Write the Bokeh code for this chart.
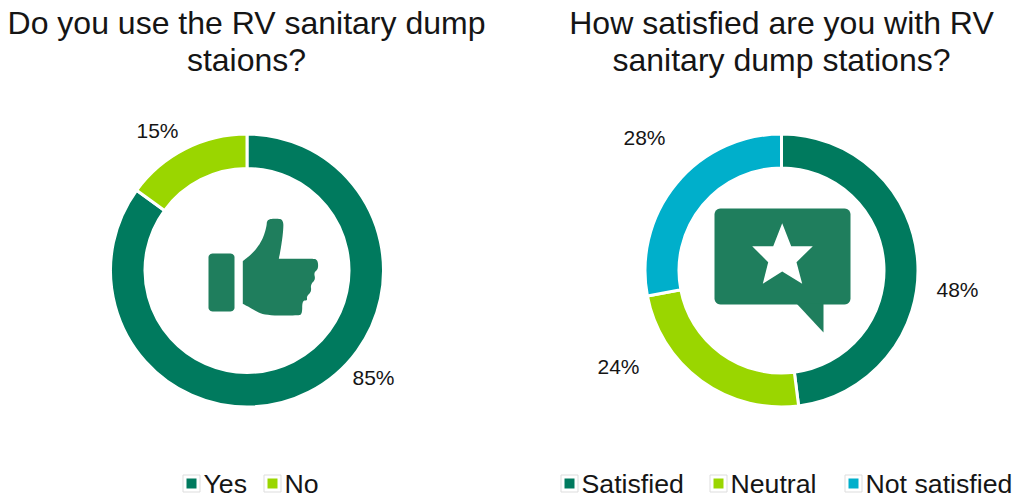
import math
from bokeh.core.properties import value
from bokeh.embed import file_html
from bokeh.models import ColumnDataSource, Range1d
from bokeh.plotting import figure
from bokeh.resources import INLINE

W, H = 1012, 499

# Survey results
usage_labels = ["Yes", "No"]
usage_values = [85, 15]
satisfaction_labels = ["Satisfied", "Neutral", "Not satisfied"]
satisfaction_values = [48, 24, 28]

usage_title = ["Do you use the RV sanitary dump", "staions?"]
satisfaction_title = ["How satisfied are you with RV", "sanitary dump stations?"]

TEAL = "#007A5E"
LIME = "#9AD600"
BLUE = "#00AFCB"
ICON = "#1F7E5D"
INK = "#151515"
FONT = value("Liberation Sans")

p = figure(width=W, height=H, output_backend="svg", toolbar_location=None,
           x_range=Range1d(0, W), y_range=Range1d(0, H), min_border=0)
p.axis.visible = False
p.grid.visible = False
p.outline_line_color = None
p.background_fill_color = "white"
p.border_fill_color = "white"


def Y(y):
    """Convert a distance from the top of the page to a y coordinate."""
    return H - y


def text(x, y, s, size, align="center"):
    p.text([x], [Y(y)], text=[s], text_font=FONT, text_font_size=f"{size}px",
           text_color=INK, text_align=align, text_baseline="middle")


def donut(cx, cy, r0, r1, values, colors):
    # Slices run clockwise from twelve o'clock
    total = sum(values)
    ends = []
    run = 0
    for v in values:
        ends.append(run)
        run += v
    ends.append(run)
    start = [math.pi / 2 - 2 * math.pi * e / total for e in ends[1:]]
    end = [math.pi / 2 - 2 * math.pi * e / total for e in ends[:-1]]
    src = ColumnDataSource(dict(start=start, end=end, color=colors))
    p.annular_wedge(x=cx, y=Y(cy), inner_radius=r0, outer_radius=r1,
                    start_angle="start", end_angle="end", direction="anticlock",
                    fill_color="color", line_color="white", line_width=3, source=src)


def round_rect(x0, y0, x1, y1, r):
    xs, ys = [], []
    corners = [(x1 - r, y0 + r, -90), (x1 - r, y1 - r, 0), (x0 + r, y1 - r, 90), (x0 + r, y0 + r, 180)]
    for cx, cy, a0 in corners:
        for k in range(7):
            a = math.radians(a0 + 15 * k)
            xs.append(cx + r * math.cos(a))
            ys.append(cy + r * math.sin(a))
    return xs, ys


def smooth(points, rounds=3):
    # Corner cutting; a vertex listed twice stays close to sharp
    for _ in range(rounds):
        out = []
        for i, a in enumerate(points):
            b = points[(i + 1) % len(points)]
            out.append((0.75 * a[0] + 0.25 * b[0], 0.75 * a[1] + 0.25 * b[1]))
            out.append((0.25 * a[0] + 0.75 * b[0], 0.25 * a[1] + 0.75 * b[1]))
        points = out
    return points


def shape(points, color):
    p.patch([q[0] for q in points], [Y(q[1]) for q in points],
            fill_color=color, line_color=None)


def legend_item(x, y, s, color, size=26.7):
    p.rect([x], [Y(y)], width=17, height=17, fill_color="white", line_color="#DDDDDD", line_width=1)
    p.rect([x], [Y(y)], width=10, height=10, fill_color=color, line_color=None)
    text(x + 12, y, s, size, "left")


# Titles
text(246, 22, usage_title[0], 32)
text(246, 59, usage_title[1], 32)
text(781, 22, satisfaction_title[0], 32)
text(781, 59, satisfaction_title[1], 32)

# Rings
donut(246.5, 270, 102, 136.5, usage_values, [TEAL, LIME])
donut(781, 270, 102.5, 136.5, satisfaction_values, [TEAL, LIME, BLUE])

# Percentage labels
for x, y, v in zip([373, 157], [377, 130], usage_values):
    text(x, y, f"{v}%", 21)
for x, y, v in zip([957, 618, 644], [289, 366, 137], satisfaction_values):
    text(x, y, f"{v}%", 21)

# Thumbs-up icon
xs, ys = round_rect(208, 253, 234, 311, 4)
shape(list(zip(xs, ys)), ICON)
thumb = [(242.3, 260.7), (242.3, 260.7), (253.3, 251.7), (261.7, 240), (266, 226.7), (266.5, 219), (275, 218),
         (283, 219), (282.7, 231.7), (280, 250), (278.3, 258.3), (278.3, 258.3), (310, 258.3), (317, 258.5),
         (318, 268.3), (313.3, 272), (315, 279), (310, 284), (311, 291), (306, 296), (307, 300),
         (301.7, 300), (301.7, 314), (297, 315), (263.3, 315), (251.7, 308.3), (242.3, 303.3), (242.3, 303.3)]
shape(smooth(thumb), ICON)

# Speech bubble with a star
xs, ys = round_rect(714, 208, 850, 304, 6)
shape(list(zip(xs, ys)), ICON)
shape([(796, 303), (823, 332), (823, 303)], ICON)
star = [(781.7, 222.7), (790.7, 245.7), (812.3, 245.7), (796, 261.7), (801.7, 283.3),
        (781.7, 271), (762.3, 283.3), (767.7, 261.7), (751.7, 245.7), (772.7, 245.7)]
shape(star, "white")

# Legends
legend_item(191, 483, usage_labels[0], TEAL)
legend_item(272, 483, usage_labels[1], LIME)
legend_item(569, 483, satisfaction_labels[0], TEAL)
legend_item(718, 483, satisfaction_labels[1], LIME)
legend_item(853, 483, satisfaction_labels[2], BLUE)

open("out.html", "w").write(file_html(p, INLINE))
